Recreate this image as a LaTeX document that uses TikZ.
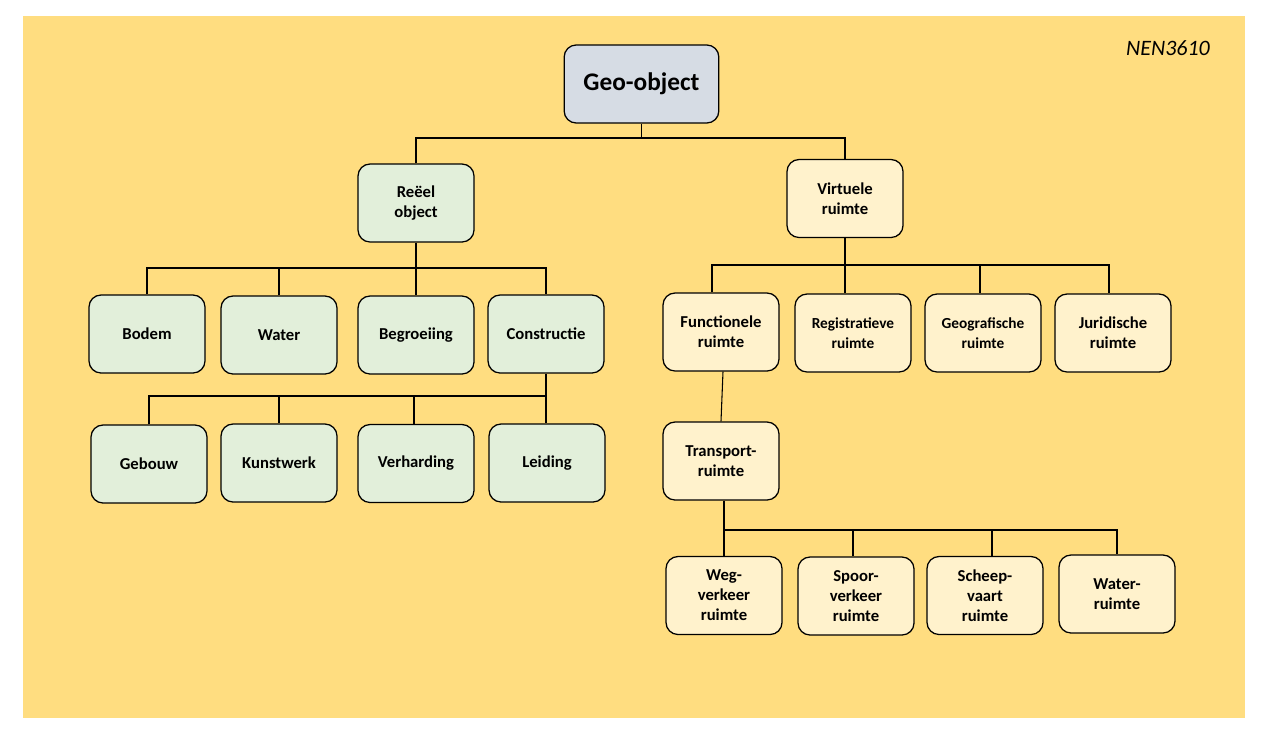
\documentclass[tikz,border=0pt]{standalone}
\usepackage{fontspec}
\setmainfont{Carlito}
\definecolor{bgyellow}{HTML}{FFDD80}
\definecolor{boxgreen}{HTML}{E2EFDA}
\definecolor{boxyellow}{HTML}{FFF2CC}
\definecolor{boxgrey}{HTML}{D6DCE4}
\begin{document}
\begin{tikzpicture}[x=0.75pt,y=-0.75pt,
  box/.style={draw=black, line width=0.95pt, rounded corners=9pt,
    minimum width=87pt, minimum height=58.5pt, align=center, inner sep=2pt,
    font=\bfseries\fontsize{12.5}{15}\selectfont},
  gbox/.style={box, fill=boxgreen},
  ybox/.style={box, fill=boxyellow},
  smalltext/.style={font=\bfseries\fontsize{11.5}{15}\selectfont},
  conn/.style={draw=black, line width=0.8pt}]
\useasboundingbox (0,0) rectangle (1264,736);
\fill[white] (0,0) rectangle (1264,736);
\fill[bgyellow] (23,16) rectangle (1245,718);

\node[font=\itshape\fontsize{16.5}{19}\selectfont] (nen) at (1168,48) {NEN3610};

\node[box, fill=boxgrey, minimum width=116pt, font=\bfseries\fontsize{19}{22}\selectfont] (geo) at (641.5,84) {Geo-object};

\node[gbox] (reeel) at (416,203) {Reëel\\object};
\node[ybox] (virt) at (845,198.5) {Virtuele\\ruimte};

\node[gbox] (bodem) at (147,334) {Bodem};
\node[gbox] (water) at (279,335) {Water};
\node[gbox] (begr) at (416,335) {Begroeiing};
\node[gbox] (constr) at (546,334) {Constructie};

\node[gbox] (gebouw) at (149,464) {Gebouw};
\node[gbox] (kunst) at (279,463) {Kunstwerk};
\node[gbox] (verh) at (416,463.5) {Verharding};
\node[gbox] (leiding) at (547,463) {Leiding};

\node[ybox] (func) at (721,332) {Functionele\\ruimte};
\node[ybox, smalltext] (regis) at (853,333) {Registratieve\\ruimte};
\node[ybox, smalltext] (geog) at (983,333) {Geografische\\ruimte};
\node[ybox] (jurid) at (1113,333) {Juridische\\ruimte};

\node[ybox] (transp) at (721,461) {Transport-\\ruimte};

\node[ybox] (weg) at (724,595.5) {Weg-\\verkeer\\ruimte};
\node[ybox] (spoor) at (856,596) {Spoor-\\verkeer\\ruimte};
\node[ybox] (scheep) at (985,595.5) {Scheep-\\vaart\\ruimte};
\node[ybox] (wruimte) at (1117,594) {Water-\\ruimte};

% bus levels
\coordinate (bus1) at (0,138);
\coordinate (bus2) at (0,268);
\coordinate (bus3) at (0,265);
\coordinate (bus4) at (0,396);
\coordinate (bus5) at (0,530);

% Geo-object
\draw[conn] (geo.south) -- (geo.south |- bus1);
\draw[conn] (reeel.north) -- (reeel.north |- bus1) -- (virt.north |- bus1) -- (virt.north);

% Reeel object
\draw[conn] (reeel.south) -- (begr.north);
\draw[conn] (bodem.north) -- (bodem.north |- bus2) -- (constr.north |- bus2) -- (constr.north);
\draw[conn] (water.north) -- (water.north |- bus2);

% Constructie
\draw[conn] (constr.south) -- (constr.south |- leiding.north);
\draw[conn] (gebouw.north) -- (gebouw.north |- bus4) -- (constr.south |- bus4);
\draw[conn] (kunst.north) -- (kunst.north |- bus4);
\draw[conn] ([xshift=-1.5pt]verh.north) -- ([xshift=-1.5pt]verh.north |- bus4);

% Virtuele ruimte
\draw[conn] (virt.south) -- (virt.south |- regis.north);
\draw[conn] ([xshift=-6.75pt]func.north) -- ([xshift=-6.75pt]func.north |- bus3) -- ([xshift=-3pt]jurid.north |- bus3) -- ([xshift=-3pt]jurid.north);
\draw[conn] ([xshift=-2.25pt]geog.north) -- ([xshift=-2.25pt]geog.north |- bus3);

% Functionele -> Transport
\draw[conn] ([xshift=1.5pt]func.south) -- (transp.north);

% Transport
\draw[conn] ([xshift=2.25pt]transp.south) -- ([xshift=2.25pt]transp.south |- weg.north);
\draw[conn] ([xshift=2.25pt]transp.south |- bus5) -- (wruimte.north |- bus5) -- (wruimte.north);
\draw[conn] ([xshift=-2.25pt]spoor.north) -- ([xshift=-2.25pt]spoor.north |- bus5);
\draw[conn] ([xshift=5.25pt]scheep.north) -- ([xshift=5.25pt]scheep.north |- bus5);
\end{tikzpicture}
\end{document}
